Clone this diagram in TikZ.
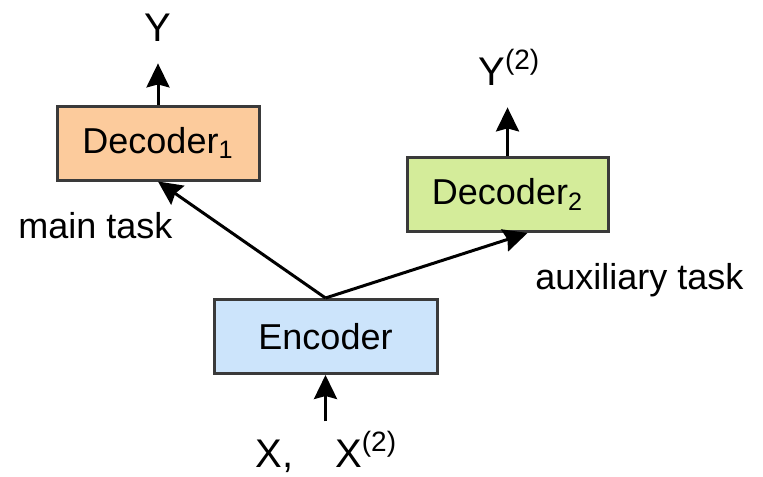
\documentclass[tikz,border=0pt]{standalone}
\usepackage{fontspec}
\setmainfont{Liberation Sans}
\usetikzlibrary{arrows.meta}
\definecolor{decone}{HTML}{FCCB9C}
\definecolor{dectwo}{HTML}{D4EC9A}
\definecolor{encfill}{HTML}{CCE4FB}
\definecolor{boxline}{HTML}{3A3A3A}

\begin{document}
\begin{tikzpicture}[x=0.5pt,y=-0.5pt,
    block/.style={draw=boxline,line width=1.5pt,minimum height=37pt,inner sep=0pt,font=\fontsize{18}{22}\selectfont},
    arr/.style={-{Stealth[length=12pt,width=11.5pt,inset=1.5pt]},line width=1.5pt},
    lbl/.style={inner sep=0pt,font=\fontsize{18}{22}\selectfont},
    big/.style={inner sep=0pt,font=\fontsize{20}{24}\selectfont}]
    \useasboundingbox (0,0) rectangle (763,476);
    \node[block,fill=decone,minimum width=101pt] (dec1) at (158,143) {Decoder\textsubscript{1}};
    \node[block,fill=dectwo,minimum width=100.5pt] (dec2) at (507.5,194.5) {Decoder\textsubscript{2}};
    \node[block,fill=encfill,minimum width=111.5pt] (enc) at (325.5,336.5) {Encoder};
    \node[big,anchor=base] (ylab) at (158,42) {Y};
    \node[big,anchor=base west] (ylab2) at (478,85) {Y\textsuperscript{(2)}};
    \node[big,anchor=base west] (xlab) at (255,467) {X,\hspace{21pt}X\textsuperscript{(2)}};
    \node[lbl,anchor=base west] (main) at (18,238) {main task};
    \node[lbl,anchor=base west] (aux) at (535,289) {auxiliary task};
    % connectors
    \draw[arr,shorten >=10.5pt] (dec1.north) -- (dec1.north |- ylab.south);
    \draw[arr,shorten >=11pt] (dec2.north) -- (dec2.north |- ylab2.south);
    \draw[arr,shorten <=5pt] (enc.south |- xlab.north) -- (enc.south);
    \draw[arr] (enc.north) -- (dec1.south);
    \draw[arr] (enc.north) -- ([xshift=10pt]dec2.south);
\end{tikzpicture}
\end{document}
